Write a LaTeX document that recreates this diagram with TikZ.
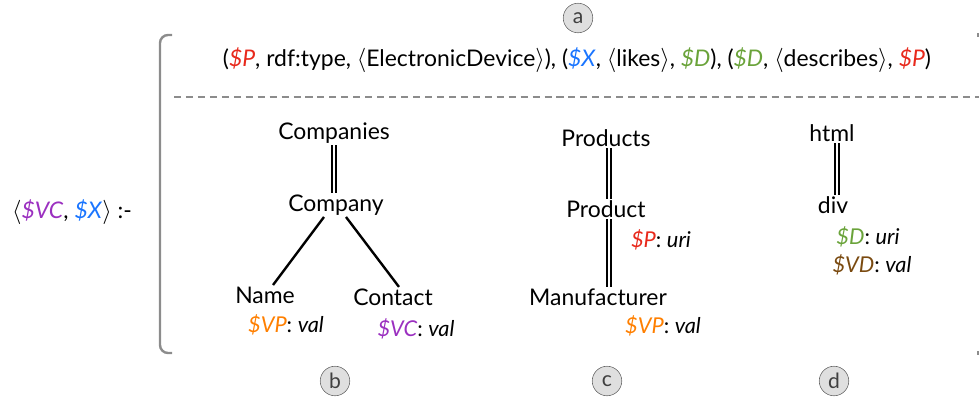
\documentclass[tikz,border=0pt]{standalone}
\usepackage{fontspec}
\setmainfont{Lato}
\definecolor{varred}{HTML}{E8291C}
\definecolor{varblue}{HTML}{1A75FF}
\definecolor{vargreen}{HTML}{6AA33A}
\definecolor{varpurple}{HTML}{9B30C0}
\definecolor{varorange}{HTML}{FF7F00}
\definecolor{varbrown}{HTML}{7A4A10}
\newcommand{\vP}{\textcolor{varred}{\textit{\$P}}}
\newcommand{\vX}{\textcolor{varblue}{\textit{\$X}}}
\newcommand{\vD}{\textcolor{vargreen}{\textit{\$D}}}
\newcommand{\vVC}{\textcolor{varpurple}{\textit{\$VC}}}
\newcommand{\vVP}{\textcolor{varorange}{\textit{\$VP}}}
\newcommand{\vVD}{\textcolor{varbrown}{\textit{\$VD}}}
\begin{document}
\begin{tikzpicture}[x=0.025cm, y=-0.025cm]
    % Define styles
    \tikzset{
        elem/.style={inner sep=1pt, font=\fontsize{16.3}{19}\selectfont},
        annot/.style={inner sep=1pt, font=\fontsize{15.5}{18}\selectfont},
        panel/.style={circle, draw=gray!80!black, fill=gray!25, minimum size=21pt, inner sep=0pt, text=black!75, font=\fontsize{15}{17}\selectfont},
        dbl/.style={double, double distance=1.4pt, line width=1.6pt},
        edge/.style={line width=1.7pt},
        bracket/.style={draw=gray!90, line width=1.7pt}
    }
    \useasboundingbox (0,0) rectangle (979,403);

    % Bracket and separator
    \draw[bracket, rounded corners=0.2cm] (172,35) -| (160,353) -- (172,353);
    \draw[bracket] (978,33) -- (978,37);
    \draw[bracket] (978,351) -- (978,355);
    \draw[gray!90, line width=1.1pt, dash pattern=on 5pt off 3.5pt] (174,97) -- (979,97);

    % Head of the rule
    \node[elem] (head) at (72,212) {$\langle$\vVC, \vX$\rangle$ :-};

    % Panel a: triple patterns
    \node[panel] (pa) at (578,18) {a};
    \node[elem] (triples) at (577,60) {(\vP, rdf:type, $\langle$ElectronicDevice$\rangle$), (\vX, $\langle$likes$\rangle$, \vD), (\vD, $\langle$describes$\rangle$, \vP)};

    % Panel b: companies
    \node[elem] (companies) at (334,133) {Companies};
    \node[elem] (company) at (336,205) {Company};
    \node[elem] (name) at (265,295) {Name};
    \node[elem] (contact) at (393,297) {Contact};
    \node[annot] (namev) at (286,325) {\vVP: \textit{val}};
    \node[annot] (contactv) at (416,329) {\vVC: \textit{val}};
    \draw[dbl] (companies.south) -- (companies.south |- company.north);
    \draw[edge] ([xshift=-0.3cm]company.south) -- ([xshift=0.2cm]name.north);
    \draw[edge] ([xshift=0.25cm]company.south) -- ([xshift=0.15cm]contact.north);

    % Panel c: products
    \node[elem] (products) at (606,138) {Products};
    \node[elem] (product) at (606,209) {Product};
    \node[annot] (productv) at (661,240) {\vP: \textit{uri}};
    \node[elem] (manuf) at (598,297) {Manufacturer};
    \node[annot] (manufv) at (663,326) {\vVP: \textit{val}};
    \draw[dbl] ([xshift=0.07cm]products.south) -- ([xshift=0.07cm]products.south |- product.north);
    \draw[dbl] ([xshift=0.07cm]product.south) -- ([xshift=0.07cm]product.south |- manuf.north);

    % Panel d: html
    \node[elem] (html) at (832,133) {html};
    \node[elem] (div) at (833,205) {div};
    \node[annot] (divv) at (868,237) {\vD: \textit{uri}};
    \node[annot] (divvd) at (872,265) {\vVD: \textit{val}};
    \draw[dbl] ([xshift=0.12cm]html.south) -- ([xshift=0.12cm]html.south |- div.north);

    % Panel labels
    \node[panel] (pb) at (335,381) {b};
    \node[panel] (pc) at (607,381) {c};
    \node[panel] (pd) at (834,381) {d};
\end{tikzpicture}
\end{document}
